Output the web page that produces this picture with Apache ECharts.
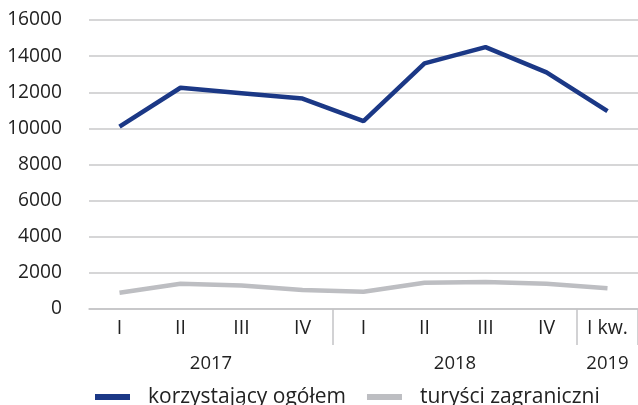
<!DOCTYPE html>
<html>
<head>
<meta charset="utf-8">
<script src="https://cdn.jsdelivr.net/npm/echarts@6/dist/echarts.min.js"></script>
<style>
  html, body {margin:0;padding:0;background:#fff;}
  #chart {width:638px;height:405px;}
</style>
</head>
<body>
<div id="chart"></div>
<script>
// kwartały
var quarters = ['I', 'II', 'III', 'IV', 'I', 'II', 'III', 'IV', 'I kw.'];
// lata (pozycja środka grupy na osi 0..9)
var years = ['2017', '2018', '2019'];
var yearPos = [2, 6, 8.5];
var seriesNames = ['korzystający ogółem', 'turyści zagraniczni'];
var ogolem = [10100, 12250, 11950, 11650, 10400, 13600, 14500, 13100, 10950];
var zagraniczni = [900, 1400, 1300, 1050, 950, 1450, 1500, 1400, 1150];

var font = 'Open Sans';
var myChart = echarts.init(document.getElementById('chart'));
var option = {
  animation: false,
  textStyle: {fontFamily: font},
  grid: {left: 89, right: 0, top: 20, bottom: 96},
  legend: {
    left: 90,
    top: 380,
    itemWidth: 35,
    itemHeight: 6,
    itemGap: 21,
    icon: 'rect',
    textStyle: {fontSize: 21, lineHeight: 24, color: '#222', fontFamily: font, padding: [0, 0, 0, 13]},
    data: [
      {name: seriesNames[0], itemStyle: {color: '#1b3886'}},
      {name: seriesNames[1], itemStyle: {color: '#bdbec2'}}
    ]
  },
  xAxis: [
    {
      type: 'category',
      data: quarters,
      axisLine: {lineStyle: {color: '#c4c4c6', width: 1.5}},
      axisTick: {
        show: true,
        length: 36,
        lineStyle: {color: '#c4c4c6', width: 1.5},
        interval: function (i) { return i === 4 || i === 8; }
      },
      axisLabel: {fontSize: 19.5, color: '#222', margin: 9, interval: 0}
    },
    {
      type: 'value',
      position: 'bottom',
      min: 0,
      max: 9,
      axisLine: {show: false},
      axisTick: {show: false},
      splitLine: {show: false},
      axisLabel: {
        fontSize: 18.5,
        color: '#222',
        margin: 45,
        customValues: yearPos,
        formatter: function (v) {
          var i = yearPos.indexOf(v);
          return i >= 0 ? years[i] : '';
        }
      }
    }
  ],
  yAxis: {
    type: 'value',
    min: 0,
    max: 16000,
    interval: 2000,
    axisLine: {show: false},
    axisTick: {show: false},
    axisLabel: {fontSize: 19.2, color: '#222', margin: 27, formatter: function (v) { return String(v); }},
    splitLine: {lineStyle: {color: '#c8c8ca', width: 1.5}}
  },
  series: [
    {
      name: seriesNames[0],
      type: 'line',
      data: ogolem,
      symbol: 'none',
      itemStyle: {color: '#1b3886'},
      lineStyle: {color: '#1b3886', width: 4.5}
    },
    {
      name: seriesNames[1],
      type: 'line',
      data: zagraniczni,
      symbol: 'none',
      itemStyle: {color: '#bdbec2'},
      lineStyle: {color: '#bdbec2', width: 4.5}
    }
  ]
};
myChart.setOption(option);
</script>
</body>
</html>
